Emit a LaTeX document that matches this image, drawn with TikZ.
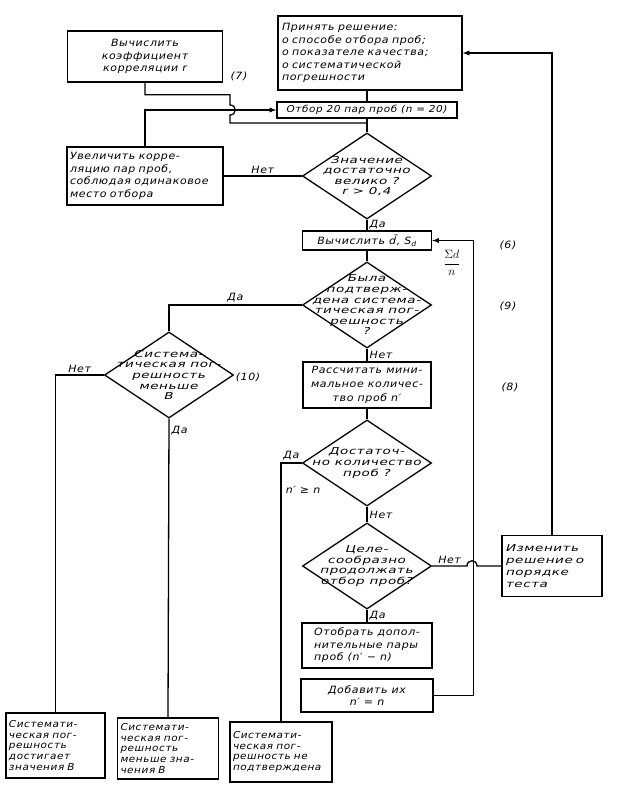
\documentclass[tikz,border=0pt]{standalone}
\usepackage{fontspec}
\setmainfont{DejaVu Sans}[FakeStretch=1.1,LetterSpace=6]
\newfontfamily\widefont{DejaVu Sans}[FakeStretch=1.42,LetterSpace=6]
\usetikzlibrary{shapes.geometric}

\begin{document}
\begin{tikzpicture}[x=1pt,y=-1pt,line width=1.3pt,
  box/.style={draw,rectangle,inner sep=3pt,font=\itshape\fontsize{10}{12.5}\selectfont},
  smallbox/.style={box,font=\itshape\fontsize{9.5}{10.8}\selectfont},
  dia/.style={draw,diamond,inner sep=0pt,minimum width=129pt,minimum height=86pt},
  diatext/.style={align=center,inner sep=0pt,font=\widefont\itshape\fontsize{9.5}{10.6}\selectfont},
  lbl/.style={inner sep=2pt,font=\itshape\fontsize{10}{12}\selectfont}]
\useasboundingbox (0,0) rectangle (619,793);
\node [box,minimum width=155pt,minimum height=51pt,align=center] (a) at (145,56.5) {Вычислить\\коэффициент\\корреляции r};
\node [box,minimum width=184pt,minimum height=74pt,text width=176pt,align=left] (b) at (370,53) {Принять решение:\\о способе отбора проб;\\о показателе качества;\\о систематической\\погрешности};
\node [box,minimum width=180pt,minimum height=16pt,inner sep=1pt,font=\itshape\fontsize{9.5}{10}\selectfont] (e) at (367,110) {Отбор 20 пар проб (n = 20)};
\node [box,minimum width=156pt,minimum height=58pt,text width=150pt,align=left] (d) at (145,176) {Увеличить корре-\\ляцию пар проб,\\соблюдая одинаковое\\место отбора};
\node [dia] (c) at (367,176) {};
\node [diatext] at (c) {Значение\\достаточно\\велико ?\\r > 0,4};
\node [box,minimum width=129pt,minimum height=19pt,inner sep=1pt] (f) at (367,240.5) {Вычислить \={d}, S\textsubscript{d}};
\node [dia] (g) at (367,305) {};
\node [diatext] at (g) {Была\\подтверж-\\дена система-\\тическая пог-\\решность\\?};
\node [box,minimum width=128pt,minimum height=46pt,align=center,font=\itshape\fontsize{10}{14}\selectfont] (h) at (367,385) {Рассчитать мини-\\мальное количес-\\тво проб n′};
\node [dia] (i) at (367,463) {};
\node [diatext] at (i) {Достаточ-\\но количество\\проб ?};
\node [dia] (j) at (367,566) {};
\node [diatext] at (j) {Целе-\\сообразно\\продолжать\\отбор проб?};
\node [box,minimum width=100pt,minimum height=61pt,text width=92pt,align=left,font=\widefont\itshape\fontsize{9.5}{12}\selectfont] (k) at (552,566) {Изменить\\решение о\\порядке\\теста};
\node [box,minimum width=130pt,minimum height=45pt,align=left] (l) at (367,645.5) {Отобрать допол-\\нительные пары\\проб (n′ − n)};
\node [box,minimum width=132pt,minimum height=33pt,align=center] (n) at (367,695.5) {Добавить их\\n′ = n};
\node [dia] (p) at (169,375) {};
\node [diatext] at (p) {Система-\\тическая пог-\\решность\\меньше\\В};
\node [smallbox,minimum width=99pt,minimum height=65pt,text width=93pt,align=left] (r) at (55.5,745.5) {Системати-\\ческая пог-\\решность\\достигает\\значения В};
\node [smallbox,minimum width=101pt,minimum height=61pt,text width=95pt,align=left] (s) at (168,748.5) {Системати-\\ческая пог-\\решность\\меньше зна-\\чения В};
\node [smallbox,minimum width=102pt,minimum height=60pt,text width=96pt,align=left] (t) at (281,752) {Системати-\\ческая пог-\\решность не\\подтверждена};
\coordinate (m) at (367,123);
\draw (b.south -| e.north) -- (e.north);
\draw (e.south) -- (c.north);
\draw (a.south) -- ++(0,12) -| (230,105) .. controls (237,105) and (237,115) .. (230,115) -- (230,123) -- (m);
\draw [-latex] (d.north) |- (e.west);
\draw (c.west) -- node[above,lbl] {Нет} (c.west -| d.east);
\draw (c.south) -- node[right,lbl] {Да} (f.north);
\draw (f.south) -- (g.north);
\draw (g.west) -| node[above,lbl,pos=0.25] {Да} (p.north);
\draw (g.south) -- node[right,lbl] {Нет} (h.north);
\draw (h.south) -- (i.north);
\draw (i.west) -| node[above,lbl,pos=0.25] {Да} (t.north);
\node [lbl] at (303,490) {n′ ≥ n};
\draw (i.south) -- node[right,lbl] {Нет} (j.north);
\draw (j.east) -- node[above,lbl] {Нет} (467,566) .. controls (467,559) and (477,559) .. (477,566) -- (k.west);
\draw (j.south) -- node[right,lbl] {Да} (l.north);
\draw [-latex] (n.east) -- ++(40,0) |- (f.east);
\draw [-latex] (k.north) |- (b.east);
\draw (p.west) -| node[above,lbl,pos=0.25] {Нет} (r.north);
\draw (p.south) -- node[right,lbl,pos=0.04] {Да} (s.north);
\node [lbl] at (239,76) {(7)};
\node [lbl] at (508,245) {(6)};
\node [lbl] at (508,306) {(9)};
\node [lbl] at (510,387) {(8)};
\node [lbl] at (248,377) {(10)};
\node [lbl,font=\fontsize{12}{14}\selectfont] at (452,263) {$\displaystyle\frac{\Sigma d}{n}$};
\end{tikzpicture}
\end{document}
